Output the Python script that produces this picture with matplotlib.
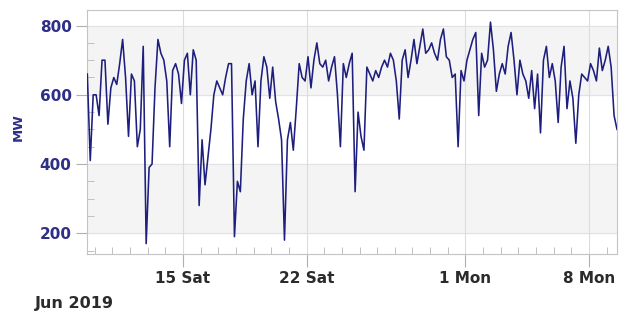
import pandas as pd
import matplotlib
matplotlib.use("Agg")
import matplotlib.pyplot as plt
import matplotlib.dates as mdates
from matplotlib.ticker import MultipleLocator

# load in MW, one reading every 4 hours starting 9 Jun 2019 14:00
START = "2019-06-09 14:00"
load_mw = [
    660, 410, 600, 600, 540, 700, 700, 515, 620, 650,
    630, 690, 760, 650, 480, 660, 640, 450, 500, 740,
    170, 390, 400, 620, 760, 720, 700, 640, 450, 670,
    690, 660, 575, 700, 720, 600, 730, 700, 280, 470,
    340, 420, 500, 600, 640, 620, 600, 650, 690, 690,
    190, 350, 320, 530, 640, 690, 600, 640, 450, 640,
    710, 680, 590, 680, 580, 530, 470, 180, 470, 520,
    440, 560, 690, 650, 640, 710, 620, 700, 750, 690,
    680, 700, 640, 680, 710, 600, 450, 690, 650, 690,
    720, 320, 550, 480, 440, 680, 660, 640, 670, 650,
    680, 700, 680, 720, 700, 640, 530, 700, 730, 650,
    700, 760, 690, 740, 790, 720, 730, 750, 720, 700,
    760, 790, 710, 700, 650, 660, 450, 670, 640, 700,
    730, 760, 780, 540, 720, 680, 700, 810, 730, 610,
    660, 690, 660, 740, 780, 700, 600, 700, 660, 640,
    590, 670, 560, 660, 490, 700, 740, 650, 690, 640,
    520, 680, 740, 560, 640, 590, 460, 600, 660, 650,
    640, 690, 670, 640, 735, 670, 700, 740, 680, 540,
    500,
]
tick_dates = ["2019-06-15", "2019-06-22", "2019-07-01", "2019-07-08"]
tick_labels = ["15 Sat", "22 Sat", "1 Mon", "8 Mon"]
y_ticks = [200, 400, 600, 800]

times = pd.date_range(START, periods=len(load_mw), freq="4h")

NAVY = "#1e1e7e"
plt.rcParams["font.family"] = "DejaVu Sans"

fig = plt.figure(figsize=(6.21, 3.28), dpi=100)
ax = fig.add_axes([0.140, 0.2256, 0.8536, 0.7439])

# grey / white bands
ax.axhspan(600, 800, color="#f4f4f4", zorder=0)
ax.axhspan(200, 400, color="#f4f4f4", zorder=0)
for y in y_ticks:
    ax.axhline(y, color="#e2e2e2", lw=0.8, zorder=1)
for d in tick_dates:
    ax.axvline(pd.Timestamp(d), color="#dcdcdc", lw=0.8, zorder=1)

ax.plot(times, load_mw, color=NAVY, lw=1.15, zorder=3)

ax.set_xlim(pd.Timestamp("2019-06-09 13:30"), pd.Timestamp("2019-07-09 14:00"))
ax.set_ylim(140, 845)

ax.set_yticks(y_ticks)
ax.set_yticklabels([str(v) for v in y_ticks], fontsize=11, fontweight="bold", color="#2f2f86")
ax.yaxis.set_minor_locator(MultipleLocator(50))
ax.tick_params(axis="y", which="major", direction="out", length=8, width=0.8, color="#b0b0b0", pad=3)
ax.tick_params(axis="y", which="minor", direction="in", length=5, width=0.7, color="#c0c0c0")

ax.set_xticks([pd.Timestamp(d) for d in tick_dates])
ax.set_xticklabels(tick_labels, fontsize=11, fontweight="bold", color="#2b2b2b")
ax.xaxis.set_minor_locator(mdates.DayLocator())
ax.tick_params(axis="x", which="major", direction="out", length=9, width=0.8, color="#b0b0b0", pad=3)
ax.tick_params(axis="x", which="minor", direction="in", length=5, width=0.7, color="#c0c0c0")

for s in ax.spines.values():
    s.set_color("#c4c4c4")
    s.set_linewidth(0.8)

fig.text(0.029, 0.613, "MW", rotation=90, ha="center", va="center",
         fontsize=9.5, fontweight="bold", color="#2f2f86")
fig.text(0.056, 0.076, "Jun 2019", ha="left", va="center",
         fontsize=11.5, fontweight="bold", color="#2b2b2b")

fig.savefig("out.png", dpi=100)
